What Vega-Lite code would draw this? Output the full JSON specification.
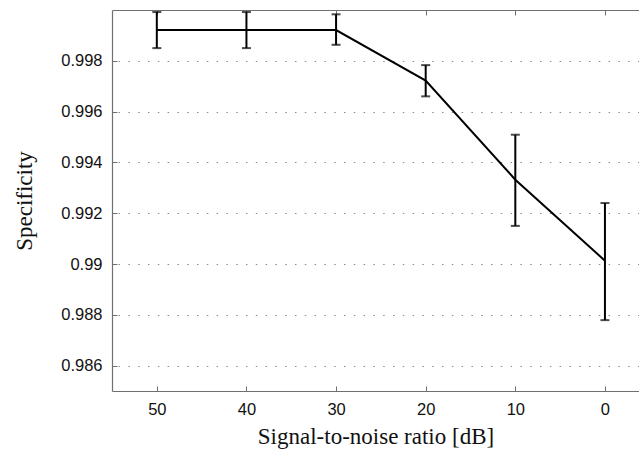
{
  "$schema": "https://vega.github.io/schema/vega-lite/v6.json",
  "width": 527,
  "height": 381,
  "autosize": {"type": "none"},
  "padding": {"left": 112, "top": 10, "right": 0, "bottom": 77},
  "background": "white",
  "config": {
    "view": {"stroke": null},
    "axis": {
      "domainColor": "#707070",
      "domainWidth": 1.2,
      "tickColor": "#707070",
      "labelFont": "Liberation Sans",
      "labelFontSize": 16.5,
      "labelColor": "#111111",
      "titleFont": "Liberation Serif",
      "titleFontSize": 23,
      "titleFontWeight": "normal",
      "titleColor": "#111111"
    }
  },
  "data": {
    "values": [
      {"snr": 50, "spec": 0.99921, "lo": 0.9985, "hi": 0.99992},
      {"snr": 40, "spec": 0.99921, "lo": 0.9985, "hi": 0.99992},
      {"snr": 30, "spec": 0.99921, "lo": 0.99863, "hi": 0.99983},
      {"snr": 20, "spec": 0.99722, "lo": 0.9966, "hi": 0.99783},
      {"snr": 10, "spec": 0.99332, "lo": 0.9915, "hi": 0.99509},
      {"snr": 0, "spec": 0.99013, "lo": 0.98779, "hi": 0.9924}
    ]
  },
  "resolve": {"axis": {"x": "independent"}},
  "layer": [
    {
      "mark": {"type": "rule", "color": "black", "strokeWidth": 2},
      "encoding": {
        "x": {
          "field": "snr",
          "type": "quantitative",
          "scale": {"domain": [-3.8, 55], "reverse": true, "nice": false, "zero": false},
          "axis": {
            "orient": "bottom",
            "title": "Signal-to-noise ratio [dB]",
            "values": [50, 40, 30, 20, 10, 0],
            "format": "d",
            "grid": false,
            "tickSize": -5,
            "labelPadding": 15,
            "titlePadding": 8
          }
        },
        "y": {
          "field": "lo",
          "type": "quantitative",
          "scale": {"domain": [0.985, 1.0], "nice": false, "zero": false},
          "axis": {
            "title": "Specificity",
            "values": [0.986, 0.988, 0.99, 0.992, 0.994, 0.996, 0.998],
            "format": "~g",
            "grid": true,
            "gridColor": "#8a8a8a",
            "gridDash": [1.5, 8.3],
            "gridWidth": 1,
            "tickSize": -5,
            "labelPadding": 15,
            "titlePadding": 24
          }
        },
        "y2": {"field": "hi"}
      }
    },
    {
      "mark": {"type": "tick", "orient": "horizontal", "color": "black", "thickness": 2, "size": 9},
      "encoding": {
        "x": {"field": "snr", "type": "quantitative", "axis": null},
        "y": {"field": "lo", "type": "quantitative"}
      }
    },
    {
      "mark": {"type": "tick", "orient": "horizontal", "color": "black", "thickness": 2, "size": 9},
      "encoding": {
        "x": {"field": "snr", "type": "quantitative", "axis": null},
        "y": {"field": "hi", "type": "quantitative"}
      }
    },
    {
      "mark": {"type": "line", "color": "black", "strokeWidth": 2},
      "encoding": {
        "x": {
          "field": "snr",
          "type": "quantitative",
          "axis": {"orient": "top", "title": null, "labels": false, "grid": false, "tickSize": -5, "values": [50, 40, 30, 20, 10, 0]}
        },
        "y": {"field": "spec", "type": "quantitative"}
      }
    }
  ]
}
